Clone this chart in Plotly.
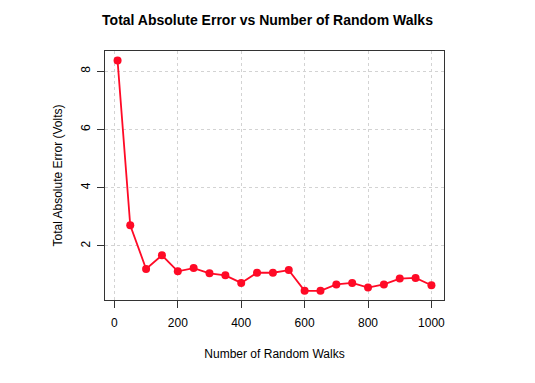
import plotly.graph_objects as go

walks = [10, 50, 100, 150, 200, 250, 300, 350, 400, 450, 500, 550,
         600, 650, 700, 750, 800, 850, 900, 950, 1000]
abs_error = [8.36, 2.71, 1.21, 1.68, 1.13, 1.24, 1.06, 0.99, 0.73, 1.08, 1.08, 1.17,
             0.46, 0.46, 0.68, 0.73, 0.57, 0.68, 0.88, 0.90, 0.65]
x_ticks = [0, 200, 400, 600, 800, 1000]
y_ticks = [2, 4, 6, 8]

title = "Total Absolute Error vs Number of Random Walks"
x_title = "Number of Random Walks"
y_title = "Total Absolute Error (Volts)"

line_color = "#ff0a26"
font = "Liberation Sans, Arial, Helvetica, sans-serif"

fig = go.Figure()
fig.add_trace(go.Scatter(
    x=walks, y=abs_error, mode="lines+markers",
    line=dict(color=line_color, width=1.8),
    marker=dict(color=line_color, size=8),
    showlegend=False,
))

fig.update_layout(
    width=535, height=383,
    margin=dict(l=105, r=91, t=51, b=83),
    paper_bgcolor="white", plot_bgcolor="white",
    font=dict(family=font, size=12, color="black"),
    title=dict(text="<b>" + title + "</b>", x=0.5, xanchor="center",
               y=1 - 20 / 383, yanchor="middle", font=dict(size=14)),
)

axis_common = dict(
    showline=True, linecolor="#333333", linewidth=1, mirror=True,
    ticks="outside", ticklen=7, tickcolor="#333333", tickwidth=1,
    showgrid=True, gridcolor="#d3d3d3", griddash="dot", gridwidth=1,
    zeroline=False, automargin=False,
)

fig.update_xaxes(
    range=[-29.6, 1039.6], tickvals=x_ticks, ticktext=[str(v) for v in x_ticks],
    title=dict(text=x_title, standoff=20, font=dict(size=12)),
    ticklabelstandoff=5,
    **axis_common,
)
fig.update_yaxes(
    range=[0.144, 8.69], tickvals=y_ticks, ticktext=[str(v) for v in y_ticks],
    tickangle=-90,
    title=dict(text=y_title, standoff=14, font=dict(size=12)),
    ticklabelstandoff=2,
    **axis_common,
)

fig.write_html("out.html", config={"displayModeBar": False},
               post_script="document.body.style.margin='0';")
